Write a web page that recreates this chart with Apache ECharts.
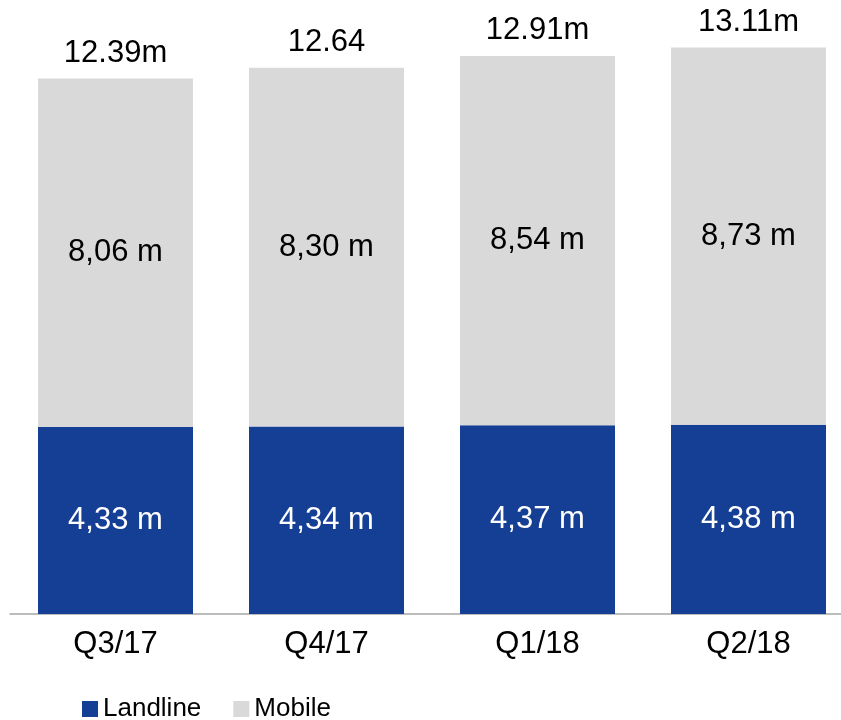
<!DOCTYPE html>
<html>
<head>
<meta charset="utf-8">
<style>
  html, body { margin: 0; padding: 0; background: #fff; }
  #main { width: 841px; height: 720px; }
</style>
<script src="https://cdn.jsdelivr.net/npm/echarts@6/dist/echarts.min.js"></script>
</head>
<body>
<div id="main"></div>
<script>
const quarters = ['Q3/17', 'Q4/17', 'Q1/18', 'Q2/18'];
const landline = [4.33, 4.34, 4.37, 4.38];
const mobile = [8.06, 8.30, 8.54, 8.73];
const totalLabels = ['12.39m', '12.64', '12.91m', '13.11m'];

const font = 'Liberation Sans, Arial, sans-serif';
const fmt = p => p.value.toFixed(2).replace('.', ',') + ' m';

const myCharts = echarts.init(document.querySelector('#main'));

const option = {
	animation: false,
	textStyle: {fontFamily: font},
	grid: {left: 10, width: 844, top: 9, bottom: 106, outerBoundsMode: 'none'},
	legend: {
		data: ['Landline', 'Mobile'],
		left: 77,
		top: 691,
		itemWidth: 16,
		itemHeight: 16,
		itemGap: 32,
		icon: 'rect',
		textStyle: {fontSize: 26, color: '#000', fontFamily: font}
	},
	xAxis: {
		type: 'category',
		data: quarters,
		axisLine: {lineStyle: {color: '#a6a6a6', width: 1.5}},
		axisTick: {show: false},
		axisLabel: {fontSize: 31, lineHeight: 31, color: '#000', margin: 15, fontFamily: font}
	},
	yAxis: {
		type: 'value',
		min: 0,
		max: 14,
		show: false,
		splitLine: {show: false}
	},
	series: [
		{
			name: 'Landline',
			type: 'bar',
			stack: 'total',
			barWidth: 155,
			data: landline,
			itemStyle: {color: '#153f95'},
			label: {show: true, position: 'inside', formatter: fmt, color: '#fff', fontSize: 31, fontFamily: font}
		},
		{
			name: 'Mobile',
			type: 'bar',
			stack: 'total',
			barWidth: 155,
			data: mobile,
			itemStyle: {color: '#d9d9d9'},
			label: {show: true, position: 'inside', formatter: fmt, color: '#000', fontSize: 31, fontFamily: font}
		},
		{
			name: 'Total',
			type: 'bar',
			stack: 'total',
			barWidth: 155,
			data: mobile.map(() => 0),
			itemStyle: {color: 'transparent'},
			label: {
				show: true,
				position: 'top',
				distance: 10,
				formatter: p => totalLabels[p.dataIndex],
				color: '#000',
				fontSize: 31,
				fontFamily: font
			}
		}
	]
};

myCharts.setOption(option);
</script>
</body>
</html>
